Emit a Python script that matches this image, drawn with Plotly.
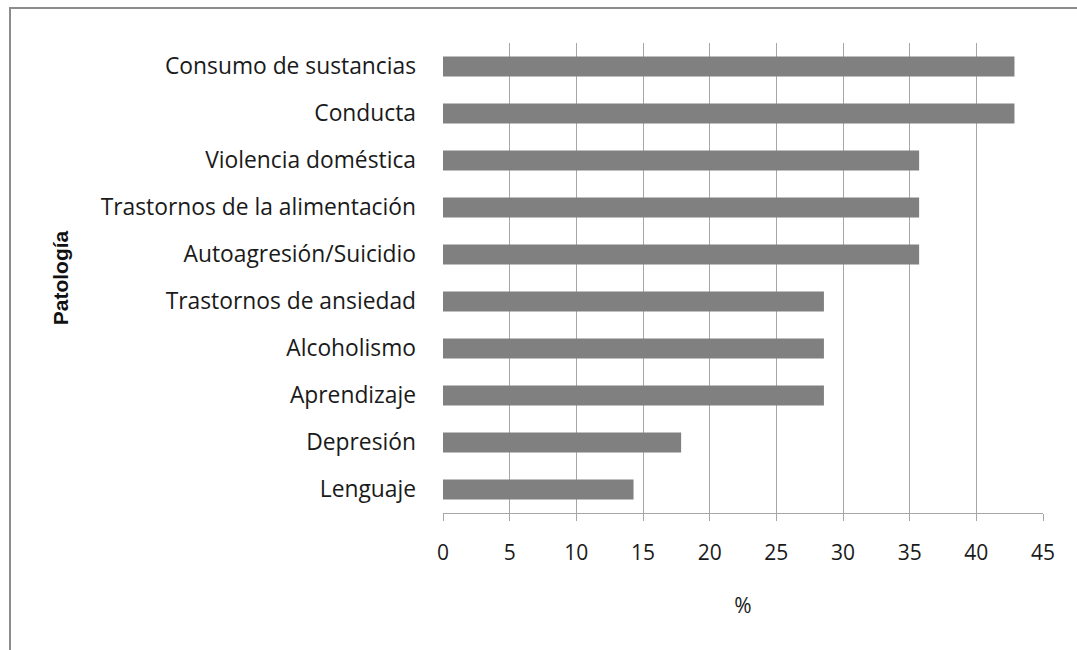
import plotly.graph_objects as go

categories = ["Consumo de sustancias", "Conducta", "Violencia doméstica",
              "Trastornos de la alimentación", "Autoagresión/Suicidio",
              "Trastornos de ansiedad", "Alcoholismo", "Aprendizaje",
              "Depresión", "Lenguaje"]
values = [42.86, 42.86, 35.71, 35.71, 35.71, 28.57, 28.57, 28.57, 17.86, 14.29]
x_ticks = [0, 5, 10, 15, 20, 25, 30, 35, 40, 45]

FONT = "Open Sans"
TXT = "#1a1a1a"
fig = go.Figure(go.Bar(
    x=values, y=categories, orientation="h",
    marker=dict(color="#808080", line=dict(width=0)),
    width=0.43,
))

fig.update_layout(
    width=1077, height=650,
    margin=dict(l=443, r=34, t=43, b=137),
    paper_bgcolor="white", plot_bgcolor="white",
    showlegend=False,
    font=dict(family=FONT, size=22, color=TXT),
    shapes=[dict(type="rect", xref="paper", yref="paper",
                 x0=(10 - 443) / 600, x1=1.2, y0=-1.0, y1=1.0 + 35 / 470,
                 line=dict(color="#8c8c8c", width=2), layer="below")],
)
fig.update_xaxes(
    range=[0, 45], tickvals=x_ticks, ticktext=[str(v) for v in x_ticks],
    showgrid=True, gridcolor="#a6a6a6", gridwidth=1,
    showline=True, linecolor="#a6a6a6", linewidth=1,
    ticks="outside", ticklen=7, tickcolor="#a6a6a6",
    ticklabelstandoff=14, zeroline=False,
    tickfont=dict(family=FONT, size=21, color=TXT),
    title=dict(text="%", font=dict(family=FONT, size=21, color=TXT), standoff=33),
)
fig.update_yaxes(
    categoryorder="array", categoryarray=categories[::-1],
    autorange=False, range=[-0.5, 9.5],
    showgrid=False, showline=False, ticks="",
    ticklabelstandoff=26,
    tickfont=dict(family=FONT, size=22.8, color=TXT),
    title=dict(text="<b>Patología</b>", font=dict(family="Liberation Sans", size=21, color="#111"), standoff=26),
)
fig.write_html("out.html")
